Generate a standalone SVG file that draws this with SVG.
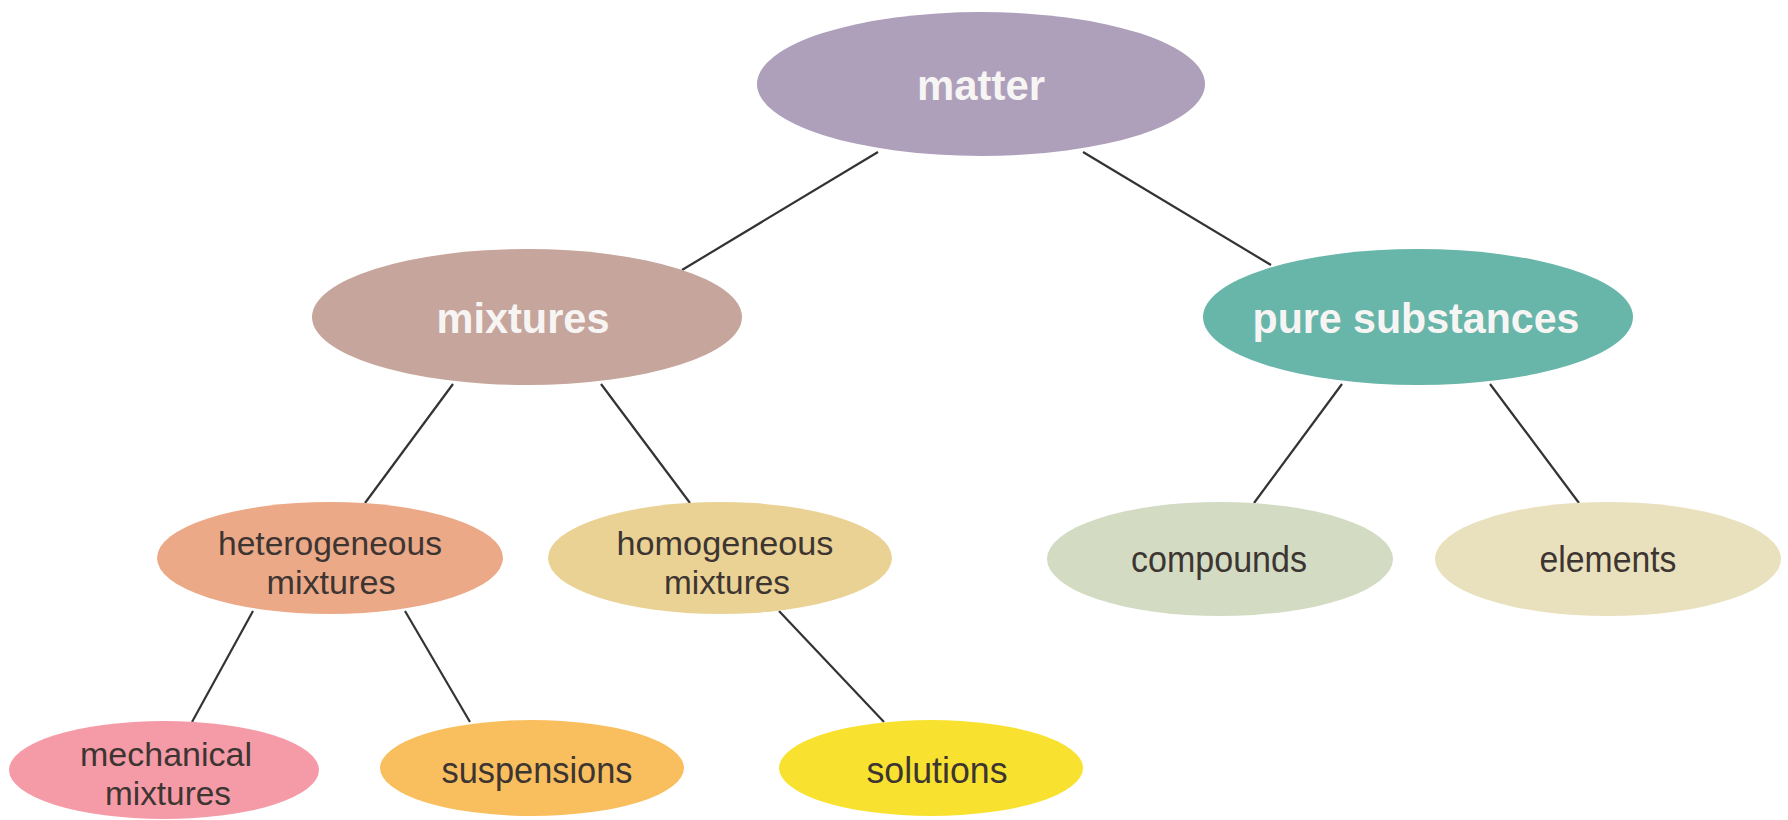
<svg xmlns="http://www.w3.org/2000/svg" width="1788" height="820" viewBox="0 0 1788 820">
<style>
.big{font-family:"Liberation Sans",Arial,sans-serif;font-weight:bold;font-size:42px;fill:#f7f5f4;text-anchor:middle}
.small{font-family:"Liberation Sans",Arial,sans-serif;font-size:36px;fill:#3d3532;text-anchor:middle}
.two{font-size:34px}
.conn line{stroke:#333;stroke-width:2.2}
</style>
<rect width="1788" height="820" fill="#ffffff"/>
<g class="conn" id="connectors">
<line x1="878" y1="152" x2="682" y2="270"/>
<line x1="1083" y1="152" x2="1271" y2="265"/>
<line x1="453" y1="384" x2="365" y2="503"/>
<line x1="601" y1="384" x2="690" y2="503"/>
<line x1="1342" y1="384" x2="1254" y2="503"/>
<line x1="1490" y1="384" x2="1579" y2="503"/>
<line x1="253" y1="611" x2="192" y2="722"/>
<line x1="405" y1="611" x2="470" y2="722"/>
<line x1="779" y1="611" x2="884" y2="722"/>
</g>
<g id="matter"><ellipse cx="981" cy="84" rx="224" ry="72" fill="#ae9fbb"/><text class="big" x="981" y="100" textLength="128" lengthAdjust="spacingAndGlyphs">matter</text></g>
<g id="mixtures"><ellipse cx="527" cy="317" rx="215" ry="68" fill="#c6a59c"/><text class="big" x="523" y="333" textLength="173" lengthAdjust="spacingAndGlyphs">mixtures</text></g>
<g id="pure-substances"><ellipse cx="1418" cy="317" rx="215" ry="68" fill="#68b5aa"/><text class="big" x="1416" y="333" textLength="327" lengthAdjust="spacingAndGlyphs">pure substances</text></g>
<g id="heterogeneous"><ellipse cx="330" cy="558" rx="173" ry="56" fill="#eba987"/><text class="small two" x="330" y="555" textLength="224" lengthAdjust="spacingAndGlyphs">heterogeneous</text><text class="small two" x="331" y="594" textLength="129" lengthAdjust="spacingAndGlyphs">mixtures</text></g>
<g id="homogeneous"><ellipse cx="720" cy="558" rx="172" ry="56" fill="#ead295"/><text class="small two" x="725" y="555" textLength="217" lengthAdjust="spacingAndGlyphs">homogeneous</text><text class="small two" x="727" y="594" textLength="126" lengthAdjust="spacingAndGlyphs">mixtures</text></g>
<g id="compounds"><ellipse cx="1220" cy="559" rx="173" ry="57" fill="#d3dbc3"/><text class="small" x="1219" y="572" textLength="176" lengthAdjust="spacingAndGlyphs">compounds</text></g>
<g id="elements"><ellipse cx="1608" cy="559" rx="173" ry="57" fill="#e9e1bd"/><text class="small" x="1608" y="572" textLength="137" lengthAdjust="spacingAndGlyphs">elements</text></g>
<g id="mechanical"><ellipse cx="164" cy="770" rx="155" ry="49" fill="#f59ba7"/><text class="small two" x="166" y="766" textLength="172" lengthAdjust="spacingAndGlyphs">mechanical</text><text class="small two" x="168" y="805" textLength="126" lengthAdjust="spacingAndGlyphs">mixtures</text></g>
<g id="suspensions"><ellipse cx="532" cy="768" rx="152" ry="48" fill="#f9bf5e"/><text class="small" x="537" y="783" textLength="191" lengthAdjust="spacingAndGlyphs">suspensions</text></g>
<g id="solutions"><ellipse cx="931" cy="768" rx="152" ry="48" fill="#f8e22f"/><text class="small" x="937" y="783" textLength="141" lengthAdjust="spacingAndGlyphs">solutions</text></g>
</svg>
